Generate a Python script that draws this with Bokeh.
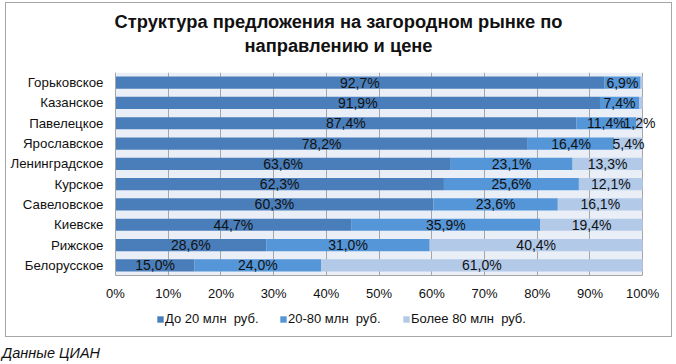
from bokeh.plotting import figure
from bokeh.models import ColumnDataSource, FactorRange, FixedTicker, Legend, LegendItem, Div, BoxAnnotation
from bokeh.layouts import column
from bokeh.core.properties import value
from bokeh.embed import file_html
from bokeh.resources import INLINE

categories = ["Горьковское", "Казанское", "Павелецкое", "Ярославское", "Ленинградское",
              "Курское", "Савеловское", "Киевске", "Рижское", "Белорусское"]
low = [92.7, 91.9, 87.4, 78.2, 63.6, 62.3, 60.3, 44.7, 28.6, 15.0]
mid = [6.9, 7.4, 11.4, 16.4, 23.1, 25.6, 23.6, 35.9, 31.0, 24.0]
high = [0.4, 0.7, 1.2, 5.4, 13.3, 12.1, 16.1, 19.4, 40.4, 61.0]
series_names = ["До 20 млн  руб.", "20-80 млн  руб.", "Более 80 млн  руб."]
tick_values = [0, 10, 20, 30, 40, 50, 60, 70, 80, 90, 100]
tick_labels = ["0%", "10%", "20%", "30%", "40%", "50%", "60%", "70%", "80%", "90%", "100%"]
title_lines = ["Структура предложения на загородном рынке по", "направлению и цене"]
source_note = "Данные ЦИАН"

colors = ["#4A7EBB", "#5596D8", "#B3C9E8"]
FONT = "Liberation Sans"
BAR_H = 0.6

src = ColumnDataSource(dict(cat=categories, low=low, mid=mid, high=high))

p = figure(width=665, height=240, y_range=FactorRange(*reversed(categories)),
           x_range=(0, 103), output_backend="svg", toolbar_location=None,
           min_border_left=109, min_border_right=13, min_border_top=9, min_border_bottom=28,
           margin=(0, 0, 0, 0))
p.background_fill_color = "white"
p.border_fill_color = "white"
p.outline_line_color = None

# plot-area background only over the 0..100% span
p.add_layout(BoxAnnotation(left=tick_values[0], right=tick_values[-1], fill_color="#EAEFF7",
                           fill_alpha=1.0, line_color=None, level="image"))

rs = p.hbar_stack(["low", "mid", "high"], y="cat", height=BAR_H, color=colors,
                  line_color=None, source=src)

# data labels
lab_x, lab_y, lab_t = [], [], []
for i, c in enumerate(categories):
    left = 0.0
    for v in (low[i], mid[i], high[i]):
        if v >= 1.0:
            lab_x.append(left + v / 2)
            lab_y.append(c)
            lab_t.append(("%.1f%%" % v).replace(".", ","))
        left += v
p.text(x=lab_x, y=lab_y, text=lab_t, text_align="center", text_baseline="middle",
       text_font=value(FONT), text_font_size="14px", text_color="#111111")

p.xaxis.ticker = FixedTicker(ticks=tick_values)
p.xaxis.major_label_overrides = {t: l for t, l in zip(tick_values, tick_labels)}
p.xaxis.bounds = (tick_values[0], tick_values[-1])
for ax in (p.xaxis[0], p.yaxis[0]):
    ax.axis_line_color = "#A6A6A6"
    ax.major_tick_line_color = None
    ax.minor_tick_line_color = None
    ax.major_tick_out = 0
    ax.major_tick_in = 0
    ax.major_label_text_font = FONT
    ax.major_label_text_font_size = "13px"
    ax.major_label_text_color = "#111111"
p.yaxis.major_label_text_font_size = "13.3px"
p.xaxis.major_label_standoff = 10
p.yaxis.major_label_standoff = 12

p.xgrid.grid_line_color = "#A6A6A6"
p.xgrid.ticker = FixedTicker(ticks=tick_values)
p.ygrid.grid_line_color = None

# legend strip below the axis (series styles only; its bars are hidden)
pl = figure(width=665, height=33, x_range=p.x_range, y_range=FactorRange(*reversed(categories)),
            output_backend="svg", toolbar_location=None, x_axis_type=None, y_axis_type=None,
            min_border=0, margin=(0, 0, 0, 0))
pl.outline_line_color = None
pl.xgrid.visible = False
pl.ygrid.visible = False
swatches = pl.hbar_stack(["low", "mid", "high"], y="cat", height=BAR_H, color=colors,
                         line_color=None, source=src, visible=False)
legend = Legend(items=[LegendItem(label=n, renderers=[r]) for n, r in zip(series_names, swatches)],
                orientation="horizontal", location=(41, 10), padding=0, margin=0,
                spacing=0, label_standoff=1, glyph_width=8, glyph_height=8,
                label_width=114, label_height=15,
                inactive_fill_alpha=0,
                label_text_font=FONT, label_text_font_size="13px", label_text_color="#111111",
                background_fill_alpha=0, border_line_color=None)
pl.add_layout(legend, "center")

title = Div(text="<br>".join(title_lines), width=665, height=60, margin=(0, 0, 0, 0),
            styles={"font-family": FONT, "font-weight": "bold", "font-size": "18.3px",
                    "color": "#111111", "text-align": "center", "line-height": "24px",
                    "padding-top": "7px", "box-sizing": "border-box"})

box = column(title, p, pl, spacing=0, margin=(2, 0, 0, 5),
             styles={"border": "1px solid #A6A6A6"})

note = Div(text=source_note, margin=(6, 0, 0, 2),
           styles={"font-family": FONT, "font-style": "italic",
                   "font-size": "14.5px", "color": "#111111"})

layout = column(box, note, spacing=0, margin=(0, 0, 0, 0))
open("out.html", "w").write(file_html(layout, INLINE))
